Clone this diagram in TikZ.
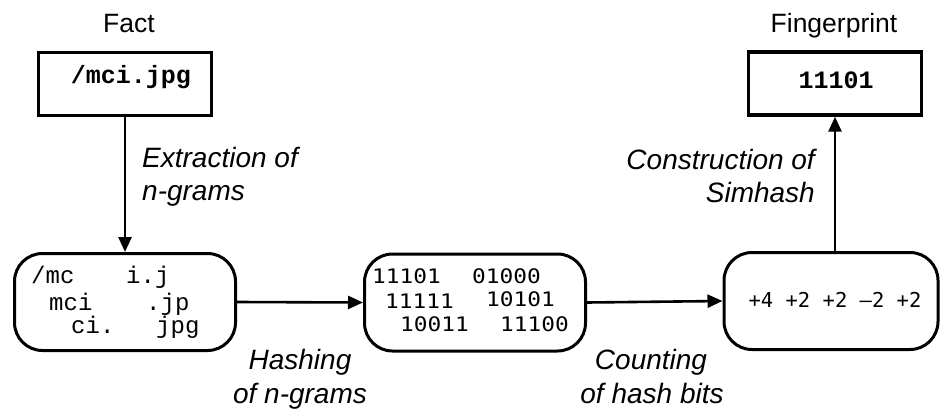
\documentclass[tikz,border=0pt]{standalone}
\usepackage{fontspec}
\setmainfont{Liberation Sans}
\newfontfamily\courier{Liberation Mono}
\newfontfamily\sansmono{DejaVu Sans Mono}
\newfontfamily\widemono[FakeStretch=1.14]{DejaVu Sans Mono}
\usetikzlibrary{arrows.meta}

\tikzset{
  squarebox/.style={draw=black, line width=3.4pt, inner sep=0pt, minimum width=173pt, minimum height=63pt},
  roundbox/.style={draw=black, line width=3pt, rounded corners=28pt, inner sep=0pt, minimum width=221pt, minimum height=97pt},
  flow/.style={line width=2.6pt, -{Triangle[length=15pt,width=13pt]}},
  caption/.style={font=\fontsize{26.5}{26.5}\selectfont, inner sep=0pt},
  steplabel/.style={font=\fontsize{28}{28}\selectfont\itshape, inner sep=0pt},
  gram/.style={font=\fontsize{24}{24}\courier, inner sep=0pt, anchor=base west},
  hashword/.style={font=\fontsize{20}{20}\widemono, inner sep=0pt, anchor=base west},
  keytext/.style={font=\fontsize{25}{25}\courier\bfseries, inner sep=0pt, anchor=base},
}

\begin{document}
\begin{tikzpicture}[x=1pt, y=-1pt]
\useasboundingbox (0,0) rectangle (941,412);

% top boxes: input fact and resulting fingerprint
\node[squarebox] (fact) at (125,84) {};
\node[keytext] (factText) at (131,83) {/mci.jpg};
\node[caption, anchor=base] (factCap) at (129,33) {Fact};

\node[squarebox] (fp) at (835,83.5) {};
\node[keytext] (fpText) at (836,88) {11101};
\node[caption, anchor=base] (fpCap) at (834,33) {Fingerprint};

% bottom row of rounded boxes
\node[roundbox] (grams) at (125,302) {};
\node[roundbox] (hashes) at (475,302.5) {};
\node[roundbox, minimum width=214pt] (counts) at (831,301) {};

% n-grams of the fact
\node[gram] (g1) at (31,283) {/mc};
\node[gram] (g2) at (126,283) {i.j};
\node[gram] (g3) at (49,310) {mci};
\node[gram] (g4) at (146,310) {.jp};
\node[gram] (g5) at (71,333) {ci.};
\node[gram] (g6) at (156,333) {jpg};

% hash values of the n-grams
\node[hashword] (h1) at (372,283) {11101};
\node[hashword] (h2) at (472,283) {01000};
\node[hashword] (h3) at (385,308) {11111};
\node[hashword] (h4) at (486,306) {10101};
\node[hashword] (h5) at (400,331) {10011};
\node[hashword] (h6) at (500,331) {11100};

% per-bit counts
\node[font=\fontsize{20.5}{20.5}\sansmono, inner sep=0pt, anchor=base] (sums) at (835,307) {+4 +2 +2 –2 +2};

% connectors
\draw[flow] (fact.south) -- (grams.north);
\draw[flow] (grams.east) -- (hashes.west);
\draw[flow] (hashes.east) -- (counts.west);
\draw[flow] (fp |- counts.north) -- (fp.south);

% step labels
\node[steplabel, anchor=base west] (ext1) at (142,167) {Extraction of};
\node[steplabel, anchor=base west] (ext2) at (142,200) {n-grams};
\node[steplabel, anchor=base east] (con1) at (815,169) {Construction of};
\node[steplabel, anchor=base east] (con2) at (815,202) {Simhash};
\node[steplabel, anchor=base] (hsh1) at (300,369) {Hashing};
\node[steplabel, anchor=base] (hsh2) at (300,403) {of n-grams};
\node[steplabel, anchor=base] (cnt1) at (651,369) {Counting};
\node[steplabel, anchor=base] (cnt2) at (652,403) {of hash bits};
\end{tikzpicture}
\end{document}
